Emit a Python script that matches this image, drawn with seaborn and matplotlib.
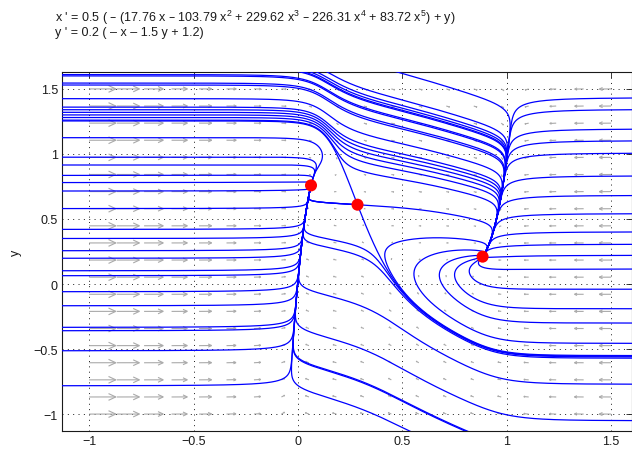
import numpy as np
import pandas as pd
import seaborn as sns
import matplotlib
matplotlib.use('Agg')
import matplotlib.pyplot as plt
from matplotlib.collections import LineCollection

# system: x' = 0.5(-(17.76x - 103.79x^2 + ...) + y),  y' = 0.2(-x - 1.5y + 1.2)
x_gain = 0.5
poly_coef = [17.76, -103.79, 229.62, -226.31, 83.72]   # x, x^2, x^3, x^4, x^5
y_gain = 0.2
y_terms = [-1.0, -1.5, 1.2]                           # x, y, const

xlim = (-1.13, 1.6)
ylim = (-1.13, 1.63)
arrow_x = np.linspace(-1, 1.5, 20)
arrow_y = np.linspace(-1, 1.5, 20)

# where the solution curves enter the window
left_y0 = [1.61, 1.60, 1.545, 1.53, 1.425, 1.36, 1.34, 1.32, 1.30, 1.28, 1.26,
           1.125, 0.975, 0.915, 0.835, 0.78, 0.715, 0.58, 0.42, 0.35, 0.256,
           0.198, 0.102, 0.064, -0.059, -0.167, -0.333, -0.359, -0.513, -0.782]
right_y0 = [1.43, 1.34, 1.19, 1.10, 1.005, 0.83, 0.68, 0.54, 0.40, 0.305, 0.22,
            0.115, -0.04, -0.19, -0.30, -0.456, -0.55, -0.56, -0.57, -0.77, -1.05]
top_x0 = [0.01, 0.03, 0.06, 0.09, 0.14, 0.475]
bottom_x0 = [0.535, 0.80, 0.81]

xticks = [-1, -0.5, 0, 0.5, 1, 1.5]
xtick_labels = ['\u22121', '\u22120.5', '0', '0.5', '1', '1.5']
yticks = [-1, -0.5, 0, 0.5, 1, 1.5]
ytick_labels = ['\u22121', '\u22120.5', '0', '0.5', '1', '1.5']


def poly(x):
    return sum(c * x ** (k + 1) for k, c in enumerate(poly_coef))


def dpoly(x):
    return sum((k + 1) * c * x ** k for k, c in enumerate(poly_coef))


def field(x, y):
    u = x_gain * (-poly(x) + y)
    v = y_gain * (y_terms[0] * x + y_terms[1] * y + y_terms[2])
    return u, v


def jac(x):
    return np.array([[-x_gain * dpoly(x), x_gain],
                     [y_gain * y_terms[0], y_gain * y_terms[1]]])


# equilibria: y from the y-nullcline, put into the x-nullcline
c = list(poly_coef)
c[0] += y_terms[0] / y_terms[1]
roots = np.roots([*c[::-1], y_terms[2] / y_terms[1]])
eq_x = np.sort(roots[np.isreal(roots)].real)
eq_x = eq_x[(eq_x > xlim[0]) & (eq_x < xlim[1])]
eq_y = -(y_terms[0] * eq_x + y_terms[2]) / y_terms[1]
stable = [np.linalg.det(jac(x)) > 0 for x in eq_x]

xr = xlim[1] - xlim[0]
yr = ylim[1] - ylim[0]


def integrate(starts, sign, h=0.0015, dtmax=0.05, nmax=9000):
    P = np.array(starts, float)
    n = len(P)
    alive = np.ones(n, bool)
    last = np.zeros(n, int)
    out = [P.copy()]
    nodes = np.array([[ex, ey] for ex, ey, s in zip(eq_x, eq_y, stable) if s])

    def f(Q):
        u, v = field(Q[:, 0], Q[:, 1])
        return sign * np.column_stack([u, v])

    for k in range(nmax):
        k1 = f(P)
        sp = np.hypot(k1[:, 0] / xr, k1[:, 1] / yr)
        dt = np.minimum(h / np.maximum(sp, 1e-12), dtmax)[:, None]
        k2 = f(P + dt / 2 * k1)
        k3 = f(P + dt / 2 * k2)
        k4 = f(P + dt * k3)
        Pn = P + dt / 6 * (k1 + 2 * k2 + 2 * k3 + k4)
        P = np.where(alive[:, None], Pn, P)
        out.append(P.copy())
        last[alive] = k + 1
        inside = ((P[:, 0] > xlim[0] - 0.02) & (P[:, 0] < xlim[1] + 0.02) &
                  (P[:, 1] > ylim[0] - 0.02) & (P[:, 1] < ylim[1] + 0.02))
        d = np.min(np.hypot((P[:, None, 0] - nodes[None, :, 0]) / xr,
                            (P[:, None, 1] - nodes[None, :, 1]) / yr), axis=1)
        alive &= inside & (d > 0.0015) & (sp > 1e-8)
        if not alive.any():
            break
    arr = np.array(out)
    return [arr[:last[i] + 1, i] for i in range(n)]


starts = ([(xlim[0] + 1e-6, y) for y in left_y0] +
          [(xlim[1] - 1e-6, y) for y in right_y0] +
          [(x, ylim[1] - 1e-6) for x in top_x0] +
          [(x, ylim[0] + 1e-6) for x in bottom_x0])

# saddle separatrices
for ex, ey, s in zip(eq_x, eq_y, stable):
    if not s:
        w, V = np.linalg.eig(jac(ex))
        for vec in V.T:
            for sg in (1, -1):
                starts.append((ex + sg * 1e-4 * vec[0], ey + sg * 1e-4 * vec[1]))

fwd = integrate(starts, 1)
bwd = integrate(starts, -1)

rows = []
for i, (a, b) in enumerate(zip(bwd, fwd)):
    pts = np.vstack([a[::-1], b[1:]])
    rows.append(pd.DataFrame({'x': pts[:, 0], 'y': pts[:, 1], 'traj': i}))
df = pd.concat(rows, ignore_index=True)

sns.set_theme(style='white')
plt.rcParams['font.family'] = ['Liberation Sans', 'DejaVu Sans']
plt.rcParams['mathtext.default'] = 'regular'

fig = plt.figure(figsize=(6.32, 4.52), dpi=100)
ax = fig.add_axes([62 / 632, 20 / 452, 570 / 632, 359 / 452])
ax.set_xlim(xlim)
ax.set_ylim(ylim)
sx = 570 / xr
sy = 359 / yr

# direction field (arrow length ~ |v|^(1/3), tail on the grid point)
GX, GY = np.meshgrid(arrow_x, arrow_y)
U, V = field(GX, GY)
U, V = U.ravel(), V.ravel()
tx, ty = GX.ravel(), GY.ravel()
mag = np.hypot(U, V)
L = 3.85 * np.cbrt(mag)
ex_, ey_ = U * sx, V * sy
nrm = np.hypot(ex_, ey_)
ex_, ey_ = ex_ / nrm, ey_ / nrm
segs = []
hl = 0.3 * L
ang = np.deg2rad(25)
for i in range(len(tx)):
    px, py = tx[i] * sx, ty[i] * sy
    qx, qy = px + L[i] * ex_[i], py + L[i] * ey_[i]
    segs.append([(px / sx, py / sy), (qx / sx, qy / sy)])
    for a in (ang, -ang):
        bx = -(ex_[i] * np.cos(a) - ey_[i] * np.sin(a))
        by = -(ex_[i] * np.sin(a) + ey_[i] * np.cos(a))
        segs.append([(qx / sx, qy / sy), ((qx + hl[i] * bx) / sx, (qy + hl[i] * by) / sy)])
ax.add_collection(LineCollection(segs, colors='#aaaaaa', linewidths=0.8, zorder=1.5))

sns.lineplot(data=df, x='x', y='y', units='traj', estimator=None, sort=False,
             color=(0, 0, 1), lw=0.9, ax=ax, zorder=3, legend=False)
sns.scatterplot(x=eq_x, y=eq_y, color='red', s=75, edgecolor='none', ax=ax, zorder=4)

ax.set_xlim(xlim)
ax.set_ylim(ylim)
ax.set_xticks(xticks)
ax.set_xticklabels(xtick_labels)
ax.set_yticks(yticks)
ax.set_yticklabels(ytick_labels)
ax.grid(True, color='k', ls=(0, (1, 4.5)), lw=0.7, zorder=0)
ax.set_axisbelow(True)
ax.tick_params(direction='in', top=True, right=True, length=4, width=0.6,
               labelsize=9, colors='k', pad=3)
for s in ax.spines.values():
    s.set_color('k')
    s.set_linewidth(0.8)
ax.set_xlabel('')
ax.set_ylabel('y', fontsize=9, color='k')
ax.yaxis.set_label_coords(-0.07, 0.5)

line1 = ("x ' = 0.5 ( \u2013 (17.76 x \u2013 103.79 x$^2$ + 229.62 x$^3$ "
         "\u2013 226.31 x$^4$ + 83.72 x$^5$) + y)")
line2 = "y ' = 0.2 ( \u2013 x \u2013 1.5 y + 1.2)"
fig.text(55 / 632, 1 - 9 / 452, line1, fontsize=9, va='top', ha='left', color='k')
fig.text(55 / 632, 1 - 27 / 452, line2, fontsize=9, va='top', ha='left', color='k')

fig.savefig('out.png', dpi=100)
